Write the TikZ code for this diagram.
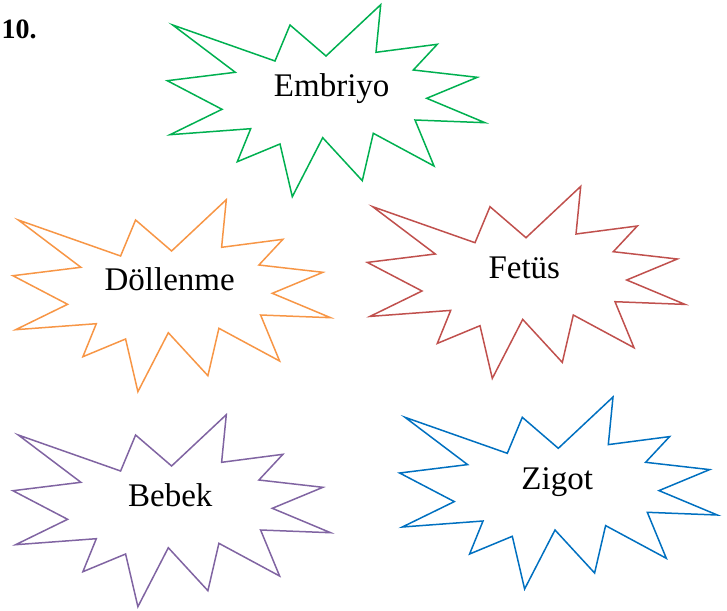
\documentclass[tikz,border=0pt]{standalone}
\usepackage{fontspec}
\setmainfont{Liberation Serif}
\definecolor{cgreen}{RGB}{0,176,80}
\definecolor{corange}{RGB}{247,150,70}
\definecolor{cred}{RGB}{192,80,77}
\definecolor{cpurple}{RGB}{128,100,162}
\definecolor{cblue}{RGB}{0,112,192}
\tikzset{
  burst/.style={line width=1.5pt, line join=miter},
  lbl/.style={anchor=base, inner sep=0pt, font=\fontsize{33}{36}\selectfont},
  num/.style={anchor=base west, inner sep=0pt, font=\fontsize{28}{30}\selectfont\bfseries}
}
\newcommand{\burstpath}{(172.7,25) -- (275,61) -- (290,25) -- (326,56) -- (380.7,4.7) -- (376,52.3) -- (437.3,44.3) -- (413.3,70) -- (477.3,77.3) -- (426.7,98.3) -- (485,122.7) -- (415,120) -- (434,166) -- (373.3,133.3) -- (362.3,180.7) -- (322.7,137.7) -- (292.3,196.7) -- (280,144) -- (237.3,161.7) -- (250.7,128.7) -- (170,134.7) -- (222,109.3) -- (167.3,80.7) -- (235.3,72.3) -- cycle}
\begin{document}
\begin{tikzpicture}[x=1pt,y=-1pt]
\useasboundingbox (0,0) rectangle (727,610);
\node[num] (n10) at (1.5,38.5) {10.};
\draw[burst, cgreen] \burstpath;
\draw[burst, corange, shift={(-154.4,195)}] \burstpath;
\draw[burst, cred, shift={(200,181.7)}] \burstpath;
\draw[burst, cpurple, shift={(-154.4,410)}] \burstpath;
\draw[burst, cblue, shift={(232.3,392.3)}] \burstpath;
\node[lbl] (embriyo) at (331.7,96.7) {Embriyo};
\node[lbl] (dollenme) at (169.7,290.7) {Döllenme};
\node[lbl] (fetus) at (524.3,278.7) {Fetüs};
\node[lbl] (bebek) at (170.3,506) {Bebek};
\node[lbl] (zigot) at (557.2,489.3) {Zigot};
\end{tikzpicture}
\end{document}
